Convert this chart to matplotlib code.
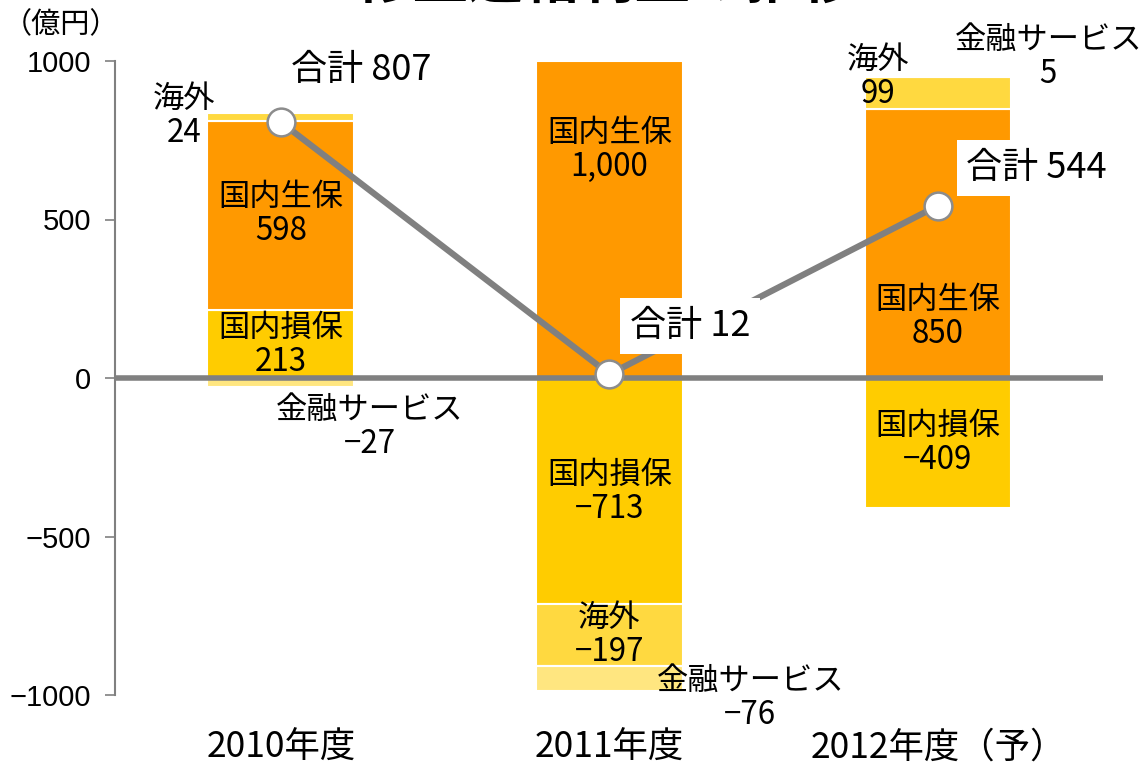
import matplotlib
matplotlib.use("Agg")
import matplotlib.pyplot as plt
import numpy as np

plt.rcParams['font.family'] = ['Noto Sans CJK JP', 'DejaVu Sans']

years = ["2010年度", "2011年度", "2012年度（予）"]
segments = ["国内生保", "国内損保", "海外", "金融サービス"]
seikuho = [598, 1000, 850]
sonpo = [213, -713, -409]
kaigai = [24, -197, 99]
kinyu = [-27, -76, 5]
totals = [807, 12, 544]
total_labels = ["807", "12", "544"]
value_labels = {
    "国内生保": ["598", "1,000", "850"],
    "国内損保": ["213", "−713", "−409"],
    "海外": ["24", "−197", "99"],
    "金融サービス": ["−27", "−76", "5"],
}
colors = {"国内生保": "#FF9900", "国内損保": "#FFCC00", "海外": "#FFD940", "金融サービス": "#FFE680"}
# stacking order per year (inner to outer)
stack_order = [
    ["国内損保", "国内生保", "海外", "金融サービス"],
    ["国内生保", "国内損保", "海外", "金融サービス"],
    ["国内生保", "海外", "金融サービス", "国内損保"],
]
values = {"国内生保": seikuho, "国内損保": sonpo, "海外": kaigai, "金融サービス": kinyu}

fig = plt.figure(figsize=(11.45, 7.68), dpi=100)
ax = fig.add_axes([115/1145, 73/768, 988/1145, 634/768])
x = np.arange(len(years))
w = 0.447

for i in range(len(years)):
    pos, neg = 0, 0
    for seg in stack_order[i]:
        v = values[seg][i]
        if v >= 0:
            ax.bar(x[i], v, w, bottom=pos, color=colors[seg], edgecolor='white', linewidth=1.5, zorder=2)
            pos += v
        else:
            ax.bar(x[i], v, w, bottom=neg, color=colors[seg], edgecolor='white', linewidth=1.5, zorder=2)
            neg += v

ax.axhline(0, color='#808080', lw=4, zorder=3)
ax.plot(x, totals, color='#808080', lw=4.5, zorder=4, marker='o', ms=20,
        mfc='white', mec='#8c8c8c', mew=1.8)

fs = 22.5
# label positions (x, y) in data coords
lab_pos = {
    ("国内生保", 0): (0, 517), ("国内損保", 0): (0, 104), ("海外", 0): (-0.295, 826), ("金融サービス", 0): (0.27, -155),
    ("国内生保", 1): (1, 719), ("国内損保", 1): (1, -360), ("海外", 1): (1, -810), ("金融サービス", 1): (1.428, -1009),
    ("国内生保", 2): (2, 192), ("国内損保", 2): (2, -205), ("海外", 2): (1.817, 950), ("金融サービス", 2): (2.335, 1013),
}
for (seg, i), (lx, ly) in lab_pos.items():
    ax.text(lx, ly, seg + "\n" + value_labels[seg][i], ha='center', va='center',
            fontsize=fs, linespacing=1.1, zorder=6)

tot_pos = [(0.245, 972, False), (1.245, 164, True), (2.30, 662, True)]
for i, (tx, ty, box) in enumerate(tot_pos):
    kw = {}
    if box:
        kw['bbox'] = dict(facecolor='white', edgecolor='none', pad=7)
    ax.text(tx, ty, "合計 " + total_labels[i], ha='center', va='center', fontsize=26, zorder=5, **kw)

ax.set_xlim(-0.505, 2.502)
ax.set_ylim(-1000, 1000)
ax.set_yticks([-1000, -500, 0, 500, 1000])
ax.set_yticklabels(["−1000", "−500", "0", "500", "1000"], fontsize=21, family=['Liberation Sans', 'DejaVu Sans'])
ax.set_xticks(x)
ax.set_xticklabels(years, fontsize=25.5)
ax.tick_params(axis='x', length=0, pad=25)
ax.tick_params(axis='y', length=7, width=1.2, color='#808080', pad=10)
for s in ['top', 'right', 'bottom']:
    ax.spines[s].set_visible(False)
ax.spines['left'].set_color('#808080')
ax.spines['left'].set_linewidth(1.5)

fig.text(3/1145, 1 - 25/768, "（億円）", fontsize=21, ha='left', va='center')
fig.text(607/1145, 1 + 18/768, "修正連結利益の推移", fontsize=40, fontweight='bold', ha='center', va='center')

fig.savefig("out.png", dpi=100)
